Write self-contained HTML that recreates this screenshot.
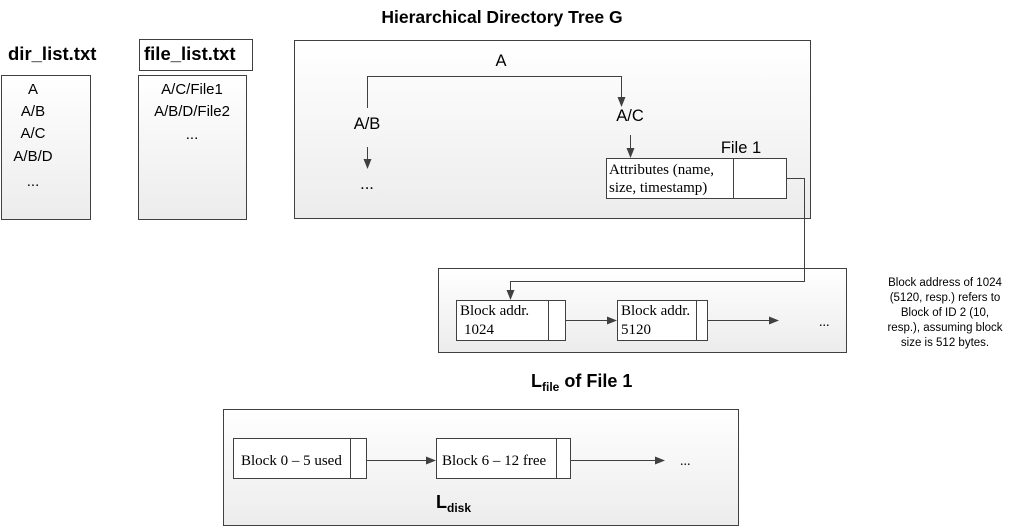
<!DOCTYPE html>
<html><head><meta charset="utf-8"><style>
html,body{margin:0;padding:0;background:#fff;}
svg{display:block;}
.c{font-family:"Liberation Sans","DejaVu Sans",sans-serif;}
.s{font-family:"Liberation Serif",serif;}
</style></head><body>
<svg width="1009" height="528" viewBox="0 0 1009 528" xmlns="http://www.w3.org/2000/svg">
<defs>
<linearGradient id="g" x1="0" y1="0" x2="0" y2="1">
<stop offset="0" stop-color="#ffffff"/><stop offset="1" stop-color="#ececec"/>
</linearGradient>
<marker id="ar" markerWidth="10" markerHeight="8" refX="9" refY="4" orient="auto" markerUnits="userSpaceOnUse">
<path d="M0,0 L10,4 L0,8 z" fill="#404040"/>
</marker>
</defs>
<g stroke="#404040" stroke-width="1" fill="url(#g)">
<rect x="1.5" y="75.5" width="89" height="144"/>
<rect x="139.5" y="39.5" width="113" height="31" fill="#fff"/>
<rect x="138.5" y="75.5" width="108" height="144"/>
<rect x="294.5" y="40.5" width="516" height="178"/>
<rect x="606.5" y="158.5" width="180" height="40" fill="#fff"/>
<rect x="438.5" y="268.5" width="408" height="84"/>
<rect x="456.5" y="300.5" width="109" height="40" fill="#fff"/>
<rect x="617.5" y="300.5" width="90" height="40" fill="#fff"/>
<rect x="223.5" y="409.5" width="515" height="116"/>
<rect x="233.5" y="438.5" width="133" height="40" fill="#fff"/>
<rect x="436.5" y="438.5" width="134" height="40" fill="#fff"/>
</g>
<g stroke="#404040" stroke-width="1" fill="none">
<line x1="733.5" y1="159" x2="733.5" y2="198"/>
<line x1="548.5" y1="301" x2="548.5" y2="340"/>
<line x1="696.5" y1="301" x2="696.5" y2="340"/>
<line x1="350.5" y1="439" x2="350.5" y2="478"/>
<line x1="556.5" y1="439" x2="556.5" y2="478"/>
<polyline points="367.5,108 367.5,76.5 621.5,76.5 621.5,106" marker-end="url(#ar)"/>
<line x1="367.5" y1="147" x2="367.5" y2="168" marker-end="url(#ar)"/>
<line x1="630.5" y1="135" x2="630.5" y2="157" marker-end="url(#ar)"/>
<polyline points="787,178.5 804.5,178.5 804.5,281.5 510.5,281.5 510.5,299" marker-end="url(#ar)"/>
<line x1="566" y1="320.5" x2="616" y2="320.5" marker-end="url(#ar)"/>
<line x1="708" y1="320.5" x2="778" y2="320.5" marker-end="url(#ar)"/>
<line x1="367" y1="460.5" x2="435" y2="460.5" marker-end="url(#ar)"/>
<line x1="571" y1="460.5" x2="664" y2="460.5" marker-end="url(#ar)"/>
</g>
<g class="c" fill="#000">
<text x="502" y="23" font-size="17.5" font-weight="bold" text-anchor="middle">Hierarchical Directory Tree G</text>
<text x="8" y="60" font-size="18.5" font-weight="bold">dir_list.txt</text>
<text x="144" y="60" font-size="18.5" font-weight="bold">file_list.txt</text>
<g font-size="15" text-anchor="middle">
<text x="33" y="94">A</text><text x="33" y="116">A/B</text><text x="33" y="138">A/C</text><text x="33" y="161">A/B/D</text><text x="33" y="186">...</text>
<text x="192" y="94">A/C/File1</text><text x="192" y="116">A/B/D/File2</text><text x="192" y="139">...</text>
</g>
<g font-size="16.5" text-anchor="middle">
<text x="501" y="66">A</text><text x="367" y="129">A/B</text><text x="630" y="121">A/C</text><text x="367" y="189">...</text>
<text x="741" y="153">File 1</text>
</g>
<g font-size="11.5" text-anchor="middle">
<text x="945" y="286">Block address of 1024</text>
<text x="945" y="301">(5120, resp.)  refers to</text>
<text x="945" y="316">Block of ID 2 (10,</text>
<text x="945" y="331">resp.), assuming block</text>
<text x="945" y="346">size is 512 bytes.</text>
</g>
<text x="531" y="387" font-size="18" font-weight="bold">L<tspan font-size="12" dy="4">file</tspan><tspan dy="-4"> of File 1</tspan></text>
<text x="436" y="508" font-size="18" font-weight="bold">L<tspan font-size="12" dy="4">disk</tspan></text>
</g>
<g class="s" fill="#000" font-size="15">
<text x="609" y="174">Attributes (name,</text>
<text x="609" y="192">size, timestamp)</text>
<text x="460" y="315">Block addr.</text>
<text x="464" y="334">1024</text>
<text x="621" y="315">Block addr.</text>
<text x="621" y="334">5120</text>
<text x="819" y="326" font-size="14">...</text>
<text x="241" y="465">Block 0 – 5 used</text>
<text x="442" y="465">Block 6 – 12 free</text>
<text x="680" y="465" font-size="14">...</text>
</g>
</svg>
</body></html>
